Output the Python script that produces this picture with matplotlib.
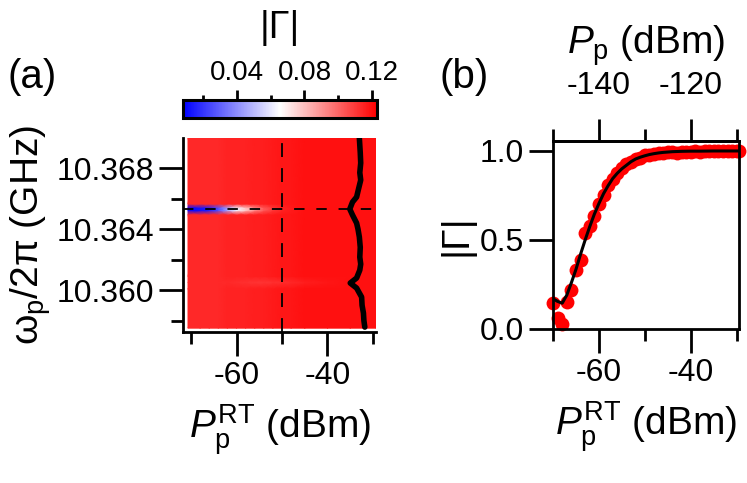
import numpy as np
import matplotlib
matplotlib.use("Agg")
import matplotlib.pyplot as plt
from matplotlib.colors import LinearSegmentedColormap
from matplotlib.ticker import FixedLocator

plt.rcParams['font.family'] = ['Liberation Sans', 'DejaVu Sans']
plt.rcParams['mathtext.fontset'] = 'custom'
plt.rcParams['mathtext.rm'] = 'Liberation Sans'
plt.rcParams['mathtext.it'] = 'Liberation Sans:italic'
plt.rcParams['axes.unicode_minus'] = False
plt.rcParams['lines.scale_dashes'] = False

# ---- panel (a): reflection map ----
map_power = [-70.66, -68, -66, -64, -62, -60, -58, -56, -54, -52, -50, -48, -45, -40, -35, -29.34]
map_freq = [10.3575, 10.3601, 10.3605, 10.3609, 10.36495, 10.36522, 10.36538, 10.36565, 10.3700]
bg_row = [0.114, 0.114, 0.114, 0.114, 0.115, 0.115, 0.115, 0.116, 0.116, 0.117, 0.118, 0.118, 0.119, 0.119, 0.119, 0.119]
band_row = [0.114, 0.114, 0.114, 0.114, 0.114, 0.113, 0.112, 0.111, 0.111, 0.112, 0.113, 0.114, 0.116, 0.118, 0.119, 0.119]
dip_row = [0.010, 0.012, 0.016, 0.026, 0.045, 0.062, 0.078, 0.092, 0.103, 0.110, 0.115, 0.117, 0.119, 0.119, 0.119, 0.119]
map_rows = [bg_row, bg_row, band_row, bg_row, bg_row, dip_row, dip_row, bg_row, bg_row]

trace_freq = [10.36997, 10.3690, 10.36833, 10.3677, 10.36721, 10.3666, 10.3661, 10.36577, 10.36531,
              10.36492, 10.36439, 10.3640, 10.36348, 10.3628, 10.36216, 10.3617, 10.36131, 10.36079,
              10.36046, 10.36013, 10.35954, 10.3590, 10.35849, 10.3580, 10.35757]
trace_power = [-33.0, -32.8, -32.7, -32.9, -32.7, -33.2, -33.6, -34.5, -35.1,
               -34.5, -33.6, -33.3, -33.0, -32.8, -32.9, -32.7, -32.9, -33.6,
               -35.0, -33.6, -32.5, -32.4, -32.1, -32.0, -31.8]
cut_power = -50
cut_freq = 10.3653

# ---- panel (b): |Gamma| vs power ----
p_meas = [-70, -69, -68, -67, -66, -65, -64, -63, -62, -61, -60, -59, -58, -57, -56, -55, -54,
          -53, -52, -51, -50, -49, -48, -47, -46, -45, -44, -43, -42, -41, -40, -39, -38, -37,
          -36, -35, -34, -33, -32, -31, -30, -29.4]
g_meas = [0.145, 0.06, 0.03, 0.15, 0.22, 0.33, 0.39, 0.54, 0.58, 0.635, 0.70, 0.755, 0.81, 0.845,
          0.875, 0.905, 0.925, 0.94, 0.955, 0.962, 0.975, 0.978, 0.985, 0.99, 0.99, 0.993, 0.995,
          0.99, 0.995, 0.997, 0.995, 0.998, 0.997, 0.998, 0.999, 0.998, 0.999, 1.0, 0.999, 1.0,
          1.0, 1.0]
p_fit = [-70, -69, -68, -67, -66, -65, -64, -63, -62, -61, -60, -59, -58, -57, -56, -55, -54,
         -53, -52, -51, -50, -49, -48, -47, -46, -45, -44, -42, -40, -38, -35, -32, -29.5]
g_fit = [0.17, 0.155, 0.145, 0.19, 0.26, 0.335, 0.42, 0.50, 0.575, 0.645, 0.705, 0.76, 0.805,
         0.845, 0.875, 0.90, 0.92, 0.94, 0.955, 0.965, 0.973, 0.98, 0.985, 0.989, 0.992, 0.994,
         0.996, 0.998, 0.999, 0.999, 1.0, 1.0, 1.0]

cmap = LinearSegmentedColormap.from_list('bwr_igor', ['#0000ff', '#ffffff', '#ff0000'])
tick_fs = 23
label_fs = 28

fig = plt.figure(figsize=(7.47, 4.83), dpi=100)

def style_ticks(ax, which_axes='both'):
    ax.tick_params(axis=which_axes, which='major', direction='out', length=17, width=2,
                   labelsize=tick_fs, pad=4)
    ax.tick_params(axis=which_axes, which='minor', direction='out', length=8.5, width=2)

# (a)
ax1 = fig.add_axes([183/747, (483-332)/483, 193/747, 194/483])
mesh = ax1.pcolormesh(map_power, map_freq, np.array(map_rows), cmap=cmap, vmin=0.008, vmax=0.123,
                      shading='gouraud', rasterized=True)
ax1.plot(trace_power, trace_freq, color='black', lw=4, solid_capstyle='round')
ax1.axvline(cut_power, color='black', lw=1.3, dashes=(10, 8))
ax1.axhline(cut_freq, color='black', lw=1.3, dashes=(7.5, 8.5))
ax1.set_xlim(-71.76, -29.34)
ax1.set_ylim(10.35725, 10.36997)
for s in ['top', 'right']:
    ax1.spines[s].set_visible(False)
for s in ['left', 'bottom']:
    ax1.spines[s].set_linewidth(2)
ax1.xaxis.set_major_locator(FixedLocator([-60, -40]))
ax1.xaxis.set_minor_locator(FixedLocator([-70, -50, -30]))
ax1.yaxis.set_major_locator(FixedLocator([10.360, 10.364, 10.368]))
ax1.yaxis.set_minor_locator(FixedLocator([10.358, 10.362, 10.366, 10.370]))
ax1.set_yticklabels(['10.360', '10.364', '10.368'])
ax1.set_xticklabels(['-60', '-40'])
style_ticks(ax1)
ax1.set_xlabel(r'$P_{\mathrm{p}}^{\mathrm{RT}}$ (dBm)', fontsize=label_fs, labelpad=8)
ax1.set_ylabel(r'ω$_{\mathrm{p}}$/2π (GHz)', fontsize=label_fs, labelpad=2)

# colorbar
cax = fig.add_axes([183/747, (483-118)/483, 194/747, 18/483])
cb = fig.colorbar(mesh, cax=cax, orientation='horizontal')
cb.outline.set_linewidth(2.2)
cax.xaxis.set_ticks_position('top')
cax.xaxis.set_major_locator(FixedLocator([0.04, 0.08, 0.12]))
cax.xaxis.set_minor_locator(FixedLocator([0.02, 0.06, 0.10]))
cax.set_xticklabels(['0.04', '0.08', '0.12'])
cax.tick_params(which='major', direction='out', length=7, width=2, labelsize=20, pad=3)
cax.tick_params(which='minor', direction='out', length=3.5, width=2)
fig.text(280/747, 1 - 28/483, '|Γ|', fontsize=27, ha='center', va='center')

# (b)
ax2 = fig.add_axes([553/747, (483-329)/483, 186/747, 188/483])
ax2.plot(p_meas, g_meas, 'o', color='#ff0000', ms=10, mec='none', clip_on=False, zorder=2)
ax2.plot(p_fit, g_fit, color='black', lw=2.2, zorder=3)
ax2.set_xlim(-70, -29.5)
ax2.set_ylim(0, 1.056)
for s in ax2.spines.values():
    s.set_linewidth(2)
ax2.xaxis.set_major_locator(FixedLocator([-60, -40]))
ax2.xaxis.set_minor_locator(FixedLocator([-70, -50, -30]))
ax2.set_xticklabels(['-60', '-40'])
ax2.yaxis.set_major_locator(FixedLocator([0.0, 0.5, 1.0]))
ax2.set_yticklabels(['0.0', '0.5', '1.0'])
style_ticks(ax2)
ax2.set_xlabel(r'$P_{\mathrm{p}}^{\mathrm{RT}}$ (dBm)', fontsize=label_fs, labelpad=8)
ax2.set_ylabel('|Γ|', fontsize=label_fs, labelpad=4)

top = ax2.secondary_xaxis('top', functions=(lambda x: x - 80, lambda x: x + 80))
top.xaxis.set_major_locator(FixedLocator([-140, -120]))
top.xaxis.set_minor_locator(FixedLocator([-150, -130, -110]))
top.set_xticklabels(['-140', '-120'])
top.spines['top'].set_linewidth(2)
top.tick_params(which='major', direction='out', length=16, width=2, labelsize=tick_fs, pad=13)
top.tick_params(which='minor', direction='out', length=8.5, width=2)
top.set_xlabel(r'$P_{\mathrm{p}}$ (dBm)', fontsize=label_fs, labelpad=12)

fig.text(8/747, 1 - 88/483, '(a)', fontsize=29, ha='left', va='baseline')
fig.text(440/747, 1 - 88/483, '(b)', fontsize=29, ha='left', va='baseline')

fig.savefig('out.png', dpi=100)
